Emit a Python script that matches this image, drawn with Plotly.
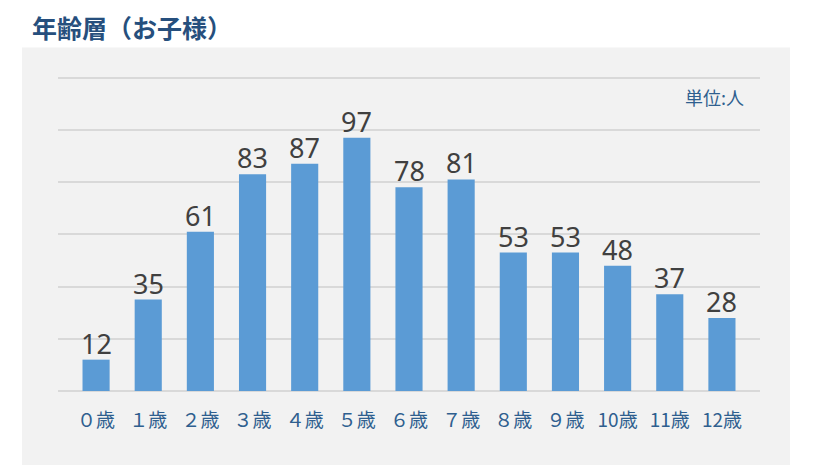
import plotly.graph_objects as go

categories = ["０歳", "１歳", "２歳", "３歳", "４歳", "５歳", "６歳", "７歳", "８歳", "９歳", "10歳", "11歳", "12歳"]
counts = [12, 35, 61, 83, 87, 97, 78, 81, 53, 53, 48, 37, 28]
title_text = "年齢層（お子様）"
unit_text = "単位:人"

OFF = 8  # page body margin
W, H = 840 - OFF, 469 - OFF
L, R = 58 - OFF, 760 - OFF
B = 391 - OFF
YMAX = 121
PPU = (391 - 78) / 120.0
T = B - YMAX * PPU

def px_x(px):
    return (px - OFF - L) / (R - L)

def px_y(py):
    return (B - (py - OFF)) / (B - T)

xs = list(range(len(categories)))

fig = go.Figure()
fig.add_trace(go.Bar(
    x=xs,
    y=counts,
    marker=dict(color="#5B9BD5", line=dict(width=0)),
    width=0.52,
))

value_labels = [
    dict(x=x, y=v, xref="x", yref="y", text=str(v), showarrow=False,
         xanchor="center", yanchor="bottom", yshift=-3, borderpad=0,
         font=dict(family="Noto Sans, sans-serif", size=27, color="#404040"))
    for x, v in zip(xs, counts)
]

fig.update_layout(
    width=W, height=H,
    margin=dict(l=L, r=W - R, t=T, b=H - B),
    paper_bgcolor="white",
    plot_bgcolor="rgba(0,0,0,0)",
    showlegend=False,
    xaxis=dict(
        range=[-0.73, 12.73],
        tickmode="array",
        tickvals=xs,
        ticktext=categories,
        tickfont=dict(family="Noto Sans CJK JP", size=19, color="#2F5F8F"),
        ticks="outside", ticklen=12, tickcolor="rgba(0,0,0,0)",
        showgrid=False, zeroline=False, showline=False,
        fixedrange=True,
    ),
    yaxis=dict(
        range=[0, YMAX],
        tickmode="array",
        tickvals=[0, 20, 40, 60, 80, 100, 120],
        showticklabels=False,
        showgrid=True, gridcolor="#D9D9D9", gridwidth=2,
        zeroline=True, zerolinecolor="#D9D9D9", zerolinewidth=2,
        showline=False,
        fixedrange=True,
    ),
    shapes=[dict(
        type="rect", xref="paper", yref="paper", layer="below",
        x0=px_x(22), x1=px_x(790), y0=px_y(465), y1=px_y(48),
        fillcolor="#F2F2F2", line=dict(width=0),
    )],
    annotations=value_labels + [
        dict(text=f"<b>{title_text}</b>", xref="paper", yref="paper",
             x=px_x(31), y=px_y(27), xanchor="left", yanchor="middle",
             showarrow=False, borderpad=0,
             font=dict(family="Noto Sans CJK JP", size=25, color="#264F7D")),
        dict(text=unit_text, xref="paper", yref="paper",
             x=px_x(746), y=px_y(97), xanchor="right", yanchor="middle",
             showarrow=False,
             font=dict(family="Noto Sans CJK JP", size=18, color="#2F5F8F")),
    ],
)

fig.write_html("out.html")
